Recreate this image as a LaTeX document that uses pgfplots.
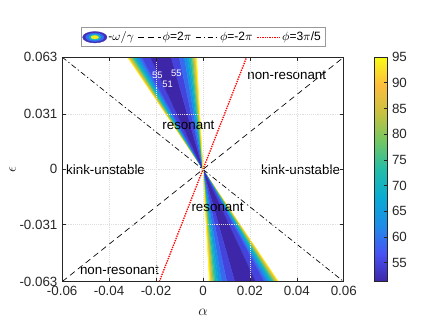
\documentclass[border=0pt]{standalone}
\usepackage{fontspec}
\setmainfont{Liberation Sans}
\usepackage{pgfplots}
\pgfplotsset{compat=1.18}
\definecolor{axgray}{rgb}{0.15,0.15,0.15}
\definecolor{lgA}{rgb}{0.26,0.19,0.72}
\definecolor{lgB}{rgb}{0.20,0.42,0.95}
\definecolor{lgC}{rgb}{0.10,0.72,0.75}
\definecolor{lgD}{rgb}{0.97,0.92,0.10}
\pgfplotsset{colormap={parula}{
 rgb(0pt)=(0.2422,0.1504,0.6603)
 rgb(1pt)=(0.2810,0.3228,0.9579)
 rgb(2pt)=(0.1200,0.5500,0.9100)
 rgb(3pt)=(0.0300,0.6700,0.8300)
 rgb(4pt)=(0.1400,0.7400,0.6600)
 rgb(5pt)=(0.4420,0.7813,0.3910)
 rgb(6pt)=(0.7800,0.7600,0.2500)
 rgb(7pt)=(0.9900,0.7400,0.2400)
 rgb(8pt)=(0.9769,0.9839,0.0805)
}}
\begin{document}
\begin{tikzpicture}
\path[use as bounding box] (-46.5pt,-30.75pt) rectangle (279.75pt,210.75pt);
\begin{axis}[
 scale only axis, width=210.75pt, height=168pt,
 xmin=-0.06, xmax=0.06, ymin=-0.063, ymax=0.063,
 scaled ticks=false,
 xtick={-0.06,-0.04,-0.02,0,0.02,0.04,0.06},
 xticklabels={-0.06,-0.04,-0.02,0,0.02,0.04,0.06},
 ytick={-0.063,-0.031,0,0.031,0.063},
 yticklabels={-0.063,-0.031,0,0.031,0.063},
 tick label style={font=\fontsize{10}{12}\selectfont, text=axgray},
 tick align=inside, major tick length=2.6pt,
 axis line style={axgray, line width=0.5pt},
 every tick/.style={axgray, line width=0.5pt},
 grid=major, grid style={densely dotted, black!13, line width=0.5pt},
 axis on top,
 xlabel={$\alpha$}, ylabel={$\epsilon$},
 xlabel style={at={(axis description cs:0.5,-0.138)}, anchor=center, font=\fontsize{11}{12}\selectfont, text=axgray},
 ylabel style={at={(axis description cs:-0.176,0.5)}, anchor=center, font=\fontsize{11}{12}\selectfont, text=axgray},
 colormap name=parula, point meta min=51.3, point meta max=95,
 colorbar,
 colorbar style={
   scale only axis, width=9.75pt, height=168pt,
   at={(parent axis.north east)}, anchor=north west, xshift=14.25pt,
   ytick={55,60,65,70,75,80,85,90,95},
   ytick pos=right, yticklabel pos=right,
   yticklabel style={font=\fontsize{10}{12}\selectfont, text=axgray},
   /pgf/number format/assume math mode=true,
   tick align=inside, major tick length=2.6pt,
   axis line style={axgray, line width=0.5pt},
   every tick/.style={axgray, line width=0.5pt},
 },
 legend columns=4,
 legend style={at={(0.5,1.045)}, anchor=south, draw=black!40, fill=white,
   font=\fontsize{9}{11}\selectfont, inner sep=1pt,
   /tikz/every even column/.append style={column sep=1pt},
   /tikz/every odd column/.append style={column sep=-1pt}},
]
\addplot[patch, patch type=triangle, shader=faceted, faceted color=mapped color, line width=0.25pt, point meta=explicit,
 legend image code/.code={
  \fill[lgA] (0.32cm,0cm) ellipse (0.32cm and 0.15cm);
  \fill[lgB] (0.32cm,0cm) ellipse (0.24cm and 0.11cm);
  \fill[lgC] (0.32cm,0cm) ellipse (0.16cm and 0.075cm);
  \fill[lgD] (0.32cm,0cm) ellipse (0.10cm and 0.045cm);
 }] coordinates {
 (0,0) [95] (-0.032193,0.063) [95] (-0.031815,0.063) [95]
 (0,0) [91] (-0.031815,0.063) [91] (-0.031374,0.063) [91]
 (0,0) [87] (-0.031374,0.063) [87] (-0.030933,0.063) [87]
 (0,0) [83] (-0.030933,0.063) [83] (-0.030492,0.063) [83]
 (0,0) [79] (-0.030492,0.063) [79] (-0.029988,0.063) [79]
 (0,0) [75] (-0.029988,0.063) [75] (-0.029421,0.063) [75]
 (0,0) [71] (-0.029421,0.063) [71] (-0.028791,0.063) [71]
 (0,0) [67] (-0.028791,0.063) [67] (-0.028035,0.063) [67]
 (0,0) [63] (-0.028035,0.063) [63] (-0.027153,0.063) [63]
 (0,0) [59] (-0.027153,0.063) [59] (-0.026019,0.063) [59]
 (0,0) [55] (-0.026019,0.063) [55] (-0.022365,0.063) [55]
 (0,0) [51.3] (-0.022365,0.063) [51.3] (-0.013545,0.063) [51.3]
 (0,0) [55] (-0.013545,0.063) [55] (-0.010143,0.063) [55]
 (0,0) [59] (-0.010143,0.063) [59] (-0.007938,0.063) [59]
 (0,0) [63] (-0.007938,0.063) [63] (-0.006678,0.063) [63]
 (0,0) [67] (-0.006678,0.063) [67] (-0.005859,0.063) [67]
 (0,0) [71] (-0.005859,0.063) [71] (-0.005166,0.063) [71]
 (0,0) [75] (-0.005166,0.063) [75] (-0.004599,0.063) [75]
 (0,0) [79] (-0.004599,0.063) [79] (-0.004095,0.063) [79]
 (0,0) [83] (-0.004095,0.063) [83] (-0.003654,0.063) [83]
 (0,0) [87] (-0.003654,0.063) [87] (-0.003276,0.063) [87]
 (0,0) [91] (-0.003276,0.063) [91] (-0.002961,0.063) [91]
 (0,0) [95] (-0.002961,0.063) [95] (-0.002709,0.063) [95]
 (0,0) [95] (0.032193,-0.063) [95] (0.031815,-0.063) [95]
 (0,0) [91] (0.031815,-0.063) [91] (0.031374,-0.063) [91]
 (0,0) [87] (0.031374,-0.063) [87] (0.030933,-0.063) [87]
 (0,0) [83] (0.030933,-0.063) [83] (0.030492,-0.063) [83]
 (0,0) [79] (0.030492,-0.063) [79] (0.029988,-0.063) [79]
 (0,0) [75] (0.029988,-0.063) [75] (0.029421,-0.063) [75]
 (0,0) [71] (0.029421,-0.063) [71] (0.028791,-0.063) [71]
 (0,0) [67] (0.028791,-0.063) [67] (0.028035,-0.063) [67]
 (0,0) [63] (0.028035,-0.063) [63] (0.027153,-0.063) [63]
 (0,0) [59] (0.027153,-0.063) [59] (0.026019,-0.063) [59]
 (0,0) [55] (0.026019,-0.063) [55] (0.022365,-0.063) [55]
 (0,0) [51.3] (0.022365,-0.063) [51.3] (0.013545,-0.063) [51.3]
 (0,0) [55] (0.013545,-0.063) [55] (0.010143,-0.063) [55]
 (0,0) [59] (0.010143,-0.063) [59] (0.007938,-0.063) [59]
 (0,0) [63] (0.007938,-0.063) [63] (0.006678,-0.063) [63]
 (0,0) [67] (0.006678,-0.063) [67] (0.005859,-0.063) [67]
 (0,0) [71] (0.005859,-0.063) [71] (0.005166,-0.063) [71]
 (0,0) [75] (0.005166,-0.063) [75] (0.004599,-0.063) [75]
 (0,0) [79] (0.004599,-0.063) [79] (0.004095,-0.063) [79]
 (0,0) [83] (0.004095,-0.063) [83] (0.003654,-0.063) [83]
 (0,0) [87] (0.003654,-0.063) [87] (0.003276,-0.063) [87]
 (0,0) [91] (0.003276,-0.063) [91] (0.002961,-0.063) [91]
 (0,0) [95] (0.002961,-0.063) [95] (0.002709,-0.063) [95]
};
\addlegendentry{-$\omega/\gamma$}
\addplot[black, line width=0.5pt, dash pattern=on 4.5pt off 3pt] coordinates {(-0.06,-0.063) (0.06,0.063)};
\addlegendentry{$\phi$=2$\pi$}
\addplot[black, line width=0.5pt, dash pattern=on 4pt off 2pt on 1pt off 2pt] coordinates {(-0.06,0.063) (0.06,-0.063)};
\addlegendentry{$\phi$=-2$\pi$}
\addplot[red, line width=1pt, dash pattern=on 1pt off 0.8pt] coordinates {(-0.0186,-0.063) (0.0186,0.063)};
\addlegendentry{$\phi$=3$\pi$/5}
\node[font=\fontsize{10}{12}\selectfont] at (axis cs:0.0357,0.0529) {non-resonant};
\node[font=\fontsize{10}{12}\selectfont] at (axis cs:-0.0062,0.0248) {resonant};
\node[font=\fontsize{10}{12}\selectfont] at (axis cs:-0.0415,0) {kink-unstable};
\node[font=\fontsize{10}{12}\selectfont] at (axis cs:0.0416,0) {kink-unstable};
\node[font=\fontsize{10}{12}\selectfont] at (axis cs:0.0062,-0.0214) {resonant};
\node[font=\fontsize{10}{12}\selectfont] at (axis cs:-0.0356,-0.0568) {non-resonant};
\node[white, font=\fontsize{7}{8}\selectfont] at (axis cs:-0.0194,0.0529) {55};
\node[white, font=\fontsize{7}{8}\selectfont] at (axis cs:-0.0151,0.0478) {51};
\node[white, font=\fontsize{7}{8}\selectfont] at (axis cs:-0.0113,0.054) {55};
\end{axis}
\end{tikzpicture}
\end{document}
